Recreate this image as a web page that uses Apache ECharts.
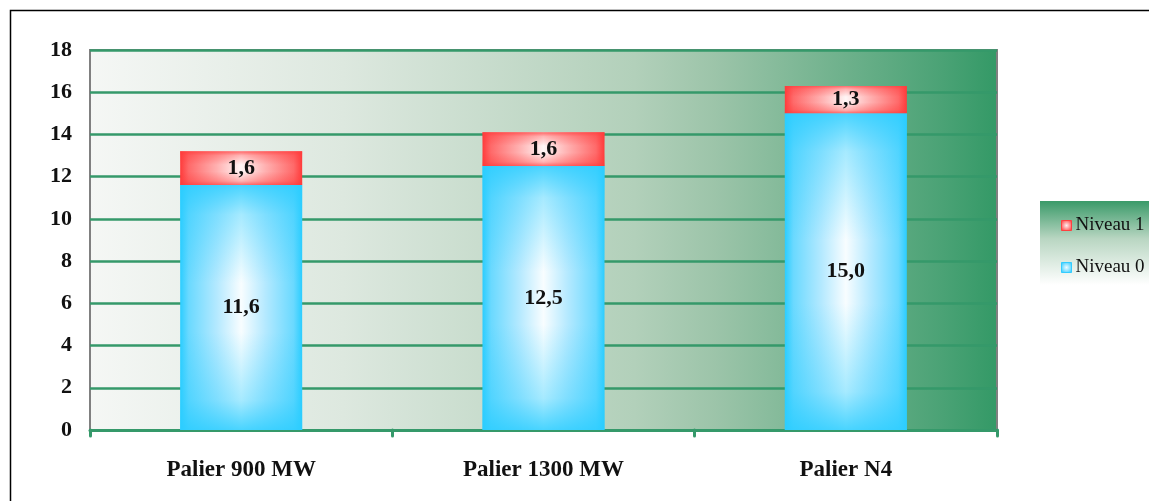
<!DOCTYPE html>
<html>
<head>
<meta charset="utf-8">
<script src="https://cdn.jsdelivr.net/npm/echarts@6/dist/echarts.min.js"></script>
<style>html,body{margin:0;padding:0;background:#fff;}#c{width:1149px;height:501px;}</style>
</head>
<body>
<div id="c"></div>
<script>
const categories = ['Palier 900 MW', 'Palier 1300 MW', 'Palier N4'];
const niveau0 = [11.6, 12.5, 15.0];
const niveau1 = [1.6, 1.6, 1.3];
const yTicks = { min: 0, max: 18, interval: 2 };

const FONT = '"Liberation Serif", "DejaVu Serif", serif';
const GREEN = '#35996a';

function hGrad(edge, inner, soft, mid) {
  return { type: 'linear', x: 0, y: 0, x2: 1, y2: 0, colorStops: [
    { offset: 0, color: edge }, { offset: 0.07, color: inner }, { offset: 0.3, color: soft },
    { offset: 0.5, color: mid }, { offset: 0.7, color: soft }, { offset: 0.93, color: inner }, { offset: 1, color: edge } ] };
}
function vGrad(edge, mid, rgba0) {
  return { type: 'linear', x: 0, y: 0, x2: 0, y2: 1, colorStops: [
    { offset: 0, color: edge }, { offset: 0.12, color: mid }, { offset: 0.4, color: rgba0 }, { offset: 0.6, color: rgba0 },
    { offset: 0.88, color: mid }, { offset: 1, color: edge } ] };
}
const blueBase = hGrad('#2bcdff', '#6ad9ff', '#b4e9ff', '#f8fdff');
const redBase = hGrad('#ff3b3b', '#ff6a6a', '#ffb0b0', '#fff6f6');
const blueOver = vGrad('rgba(43,205,255,0.85)', 'rgba(43,205,255,0.4)', 'rgba(43,205,255,0)');
const redOver = vGrad('rgba(255,59,59,0.75)', 'rgba(255,59,59,0.35)', 'rgba(255,59,59,0)');
const blueIcon = { type: 'radial', x: 0.5, y: 0.5, r: 0.6, colorStops: [{ offset: 0, color: '#f0fbff' }, { offset: 1, color: '#33ccff' }] };
const redIcon = { type: 'radial', x: 0.5, y: 0.5, r: 0.6, colorStops: [{ offset: 0, color: '#fff0f0' }, { offset: 1, color: '#ff4040' }] };

const fmt = p => p.value.toFixed(1).replace('.', ',');
const labelStyle = { show: true, position: 'inside', formatter: fmt, fontFamily: FONT, fontWeight: 'bold', fontSize: 22, color: '#111' };

const chart = echarts.init(document.getElementById('c'), null, { renderer: 'canvas' });
chart.setOption({
  animation: false,
  backgroundColor: '#fff',
  graphic: [
    { type: 'rect', z: -10, shape: { x: 10.5, y: 10.5, width: 1300, height: 600 }, style: { fill: 'none', stroke: '#000', lineWidth: 1.5 } },
    { type: 'rect', z: -5, shape: { x: 1040, y: 201, width: 120, height: 84 },
      style: { fill: { type: 'linear', x: 0, y: 0, x2: 0, y2: 1, colorStops: [
        { offset: 0, color: '#3a9a69' }, { offset: 0.45, color: '#b9d6c2' }, { offset: 1, color: '#ffffff' } ] } } }
  ],
  grid: {
    left: 90, right: 152, top: 50, bottom: 71, show: true,
    backgroundColor: { type: 'linear', x: 0, y: 0, x2: 1, y2: 0, colorStops: [
      { offset: 0, color: '#f5f7f5' }, { offset: 0.28, color: '#dde8df' }, { offset: 0.6, color: '#b2d0ba' },
      { offset: 0.69, color: '#9cc4a9' }, { offset: 0.94, color: '#4aa275' }, { offset: 1, color: '#339966' } ] },
    borderColor: '#808080', borderWidth: 2
  },
  legend: {
    orient: 'vertical', left: 1056, top: 211, itemWidth: 10, itemHeight: 10, itemGap: 23, icon: 'rect',
    data: [
      { name: 'Niveau 1', itemStyle: { color: redIcon, borderColor: '#ff4040', borderWidth: 1 } },
      { name: 'Niveau 0', itemStyle: { color: blueIcon, borderColor: '#33ccff', borderWidth: 1 } }
    ],
    textStyle: { fontFamily: FONT, fontSize: 19, color: '#111', padding: [0, 0, 0, -1] }
  },
  xAxis: {
    type: 'category', data: categories,
    axisLine: { lineStyle: { color: GREEN, width: 3, cap: 'round' } },
    axisTick: { show: true, length: 6, lineStyle: { color: GREEN, width: 3, cap: 'round' } },
    axisLabel: { margin: 29, fontFamily: FONT, fontWeight: 'bold', fontSize: 23, color: '#111' }
  },
  yAxis: {
    type: 'value', min: yTicks.min, max: yTicks.max, interval: yTicks.interval,
    axisLine: { show: false }, axisTick: { show: false },
    splitLine: { lineStyle: { color: GREEN, width: 2.5 } },
    axisLabel: { margin: 18, fontFamily: FONT, fontWeight: 'bold', fontSize: 22, color: '#111' }
  },
  series: [
    { name: 'Niveau 0', type: 'bar', stack: 'a', barWidth: 122, data: niveau0, itemStyle: { color: blueBase } },
    { name: 'Niveau 1', type: 'bar', stack: 'a', barWidth: 122, data: niveau1, itemStyle: { color: redBase } },
    { name: 'o0', type: 'bar', stack: 'b', barWidth: 122, barGap: '-100%', data: niveau0, itemStyle: { color: blueOver }, label: labelStyle, silent: true },
    { name: 'o1', type: 'bar', stack: 'b', barWidth: 122, barGap: '-100%', data: niveau1, itemStyle: { color: redOver }, label: labelStyle, silent: true }
  ]
});
</script>
</body>
</html>
